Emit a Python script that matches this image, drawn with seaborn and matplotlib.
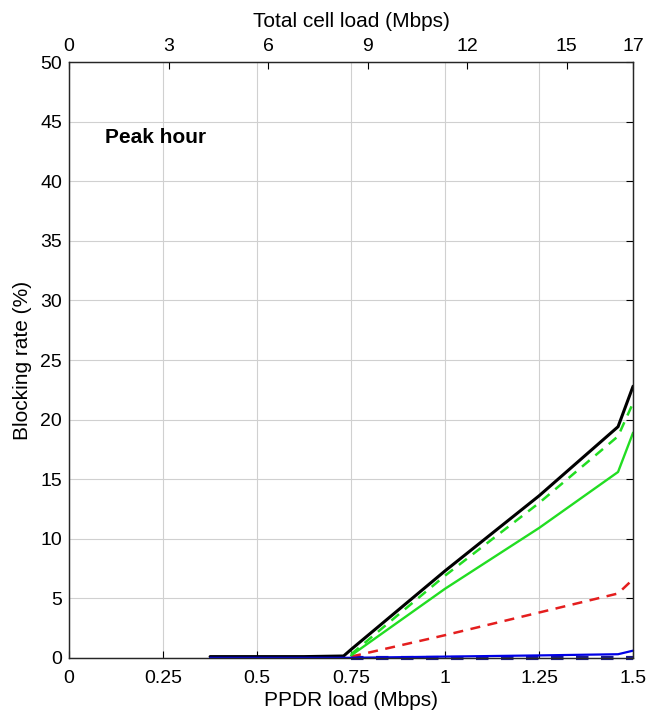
import pandas as pd
import seaborn as sns
import matplotlib.pyplot as plt

# PPDR load (Mbps) sample points
ppdr_load = [0.375, 0.5, 0.625, 0.73, 0.75, 1.0, 1.25, 1.46, 1.5]

# blocking rate (%) per curve
black_solid = [0.1, 0.1, 0.1, 0.15, 0.7, 7.3, 13.6, 19.4, 22.8]
green_solid = [0.0, 0.0, 0.0, 0.0, 0.2, 5.8, 10.9, 15.6, 18.9]
green_dashed = [0.0, 0.0, 0.0, 0.0, 0.3, 6.9, 13.0, 18.6, 21.4]
red_dashed = [0.0, 0.0, 0.0, 0.0, 0.1, 1.9, 3.8, 5.4, 6.6]
blue_solid = [0.0, 0.0, 0.0, 0.0, 0.0, 0.1, 0.2, 0.3, 0.6]
blue_dashed = [0.0, 0.0, 0.0, 0.0, 0.0, 0.0, 0.0, 0.0, 0.0]

x_ticks = [0, 0.25, 0.5, 0.75, 1, 1.25, 1.5]
x_tick_labels = ['0', '0.25', '0.5', '0.75', '1', '1.25', '1.5']
top_ticks = [0, 3, 6, 9, 12, 15, 17]
y_ticks = list(range(0, 51, 5))

sns.set_style('white')
plt.rcParams['font.family'] = ['Liberation Sans', 'DejaVu Sans']
plt.rcParams['text.color'] = 'black'
plt.rcParams['axes.labelcolor'] = 'black'
plt.rcParams['xtick.color'] = 'black'
plt.rcParams['ytick.color'] = 'black'

fig = plt.figure(figsize=(6.52, 7.15), dpi=100)
ax = fig.add_axes([0.106, 0.080, 0.865, 0.833])

df = pd.DataFrame({'x': ppdr_load})

def curve(y, color, ls, lw, start=0.0, clip=True):
    d = df.assign(y=y)
    d = d[d.x >= start]
    sns.lineplot(data=d, x='x', y='y', color=color, linestyle=ls, linewidth=lw, ax=ax)
    ax.lines[-1].set_clip_on(clip)

curve(blue_dashed, '#1a1a8c', (0, (3, 3)), 3.0, start=0.75, clip=False)
curve(red_dashed, '#e41e1e', (0, (4, 3)), 1.8, start=0.75)
curve(green_solid, '#22dd22', '-', 1.7, start=0.75)
curve(green_dashed, '#22dd22', (0, (4, 3)), 1.8, start=0.75)
curve(black_solid, 'black', '-', 2.2)
curve(blue_solid, '#0000e6', '-', 1.6, clip=False)

ax.set_xlim(0, 1.5)
ax.set_ylim(0, 50)
ax.set_xticks(x_ticks)
ax.set_xticklabels(x_tick_labels)
ax.set_yticks(y_ticks)
ax.grid(True, color='#d0d0d0', linewidth=0.8)
ax.tick_params(labelsize=14, direction='in', length=5, top=True, right=True, pad=5)
ax.tick_params(axis='x', pad=9)
ax.set_xlabel('PPDR load (Mbps)', fontsize=15, labelpad=3)
ax.set_ylabel('Blocking rate (%)', fontsize=15, labelpad=6)
for s in ax.spines.values():
    s.set_color('#333333')
    s.set_linewidth(1.0)

top = ax.twiny()
top.set_xlim(0, 17)
top.set_xticks(top_ticks)
top.tick_params(labelsize=14, direction='in', length=5, pad=5)
top.set_xlabel('Total cell load (Mbps)', fontsize=15, labelpad=8)

ax.text(0.096, 43.7, 'Peak hour', fontsize=15, fontweight='bold', va='center')

fig.savefig('out.png', dpi=100)
